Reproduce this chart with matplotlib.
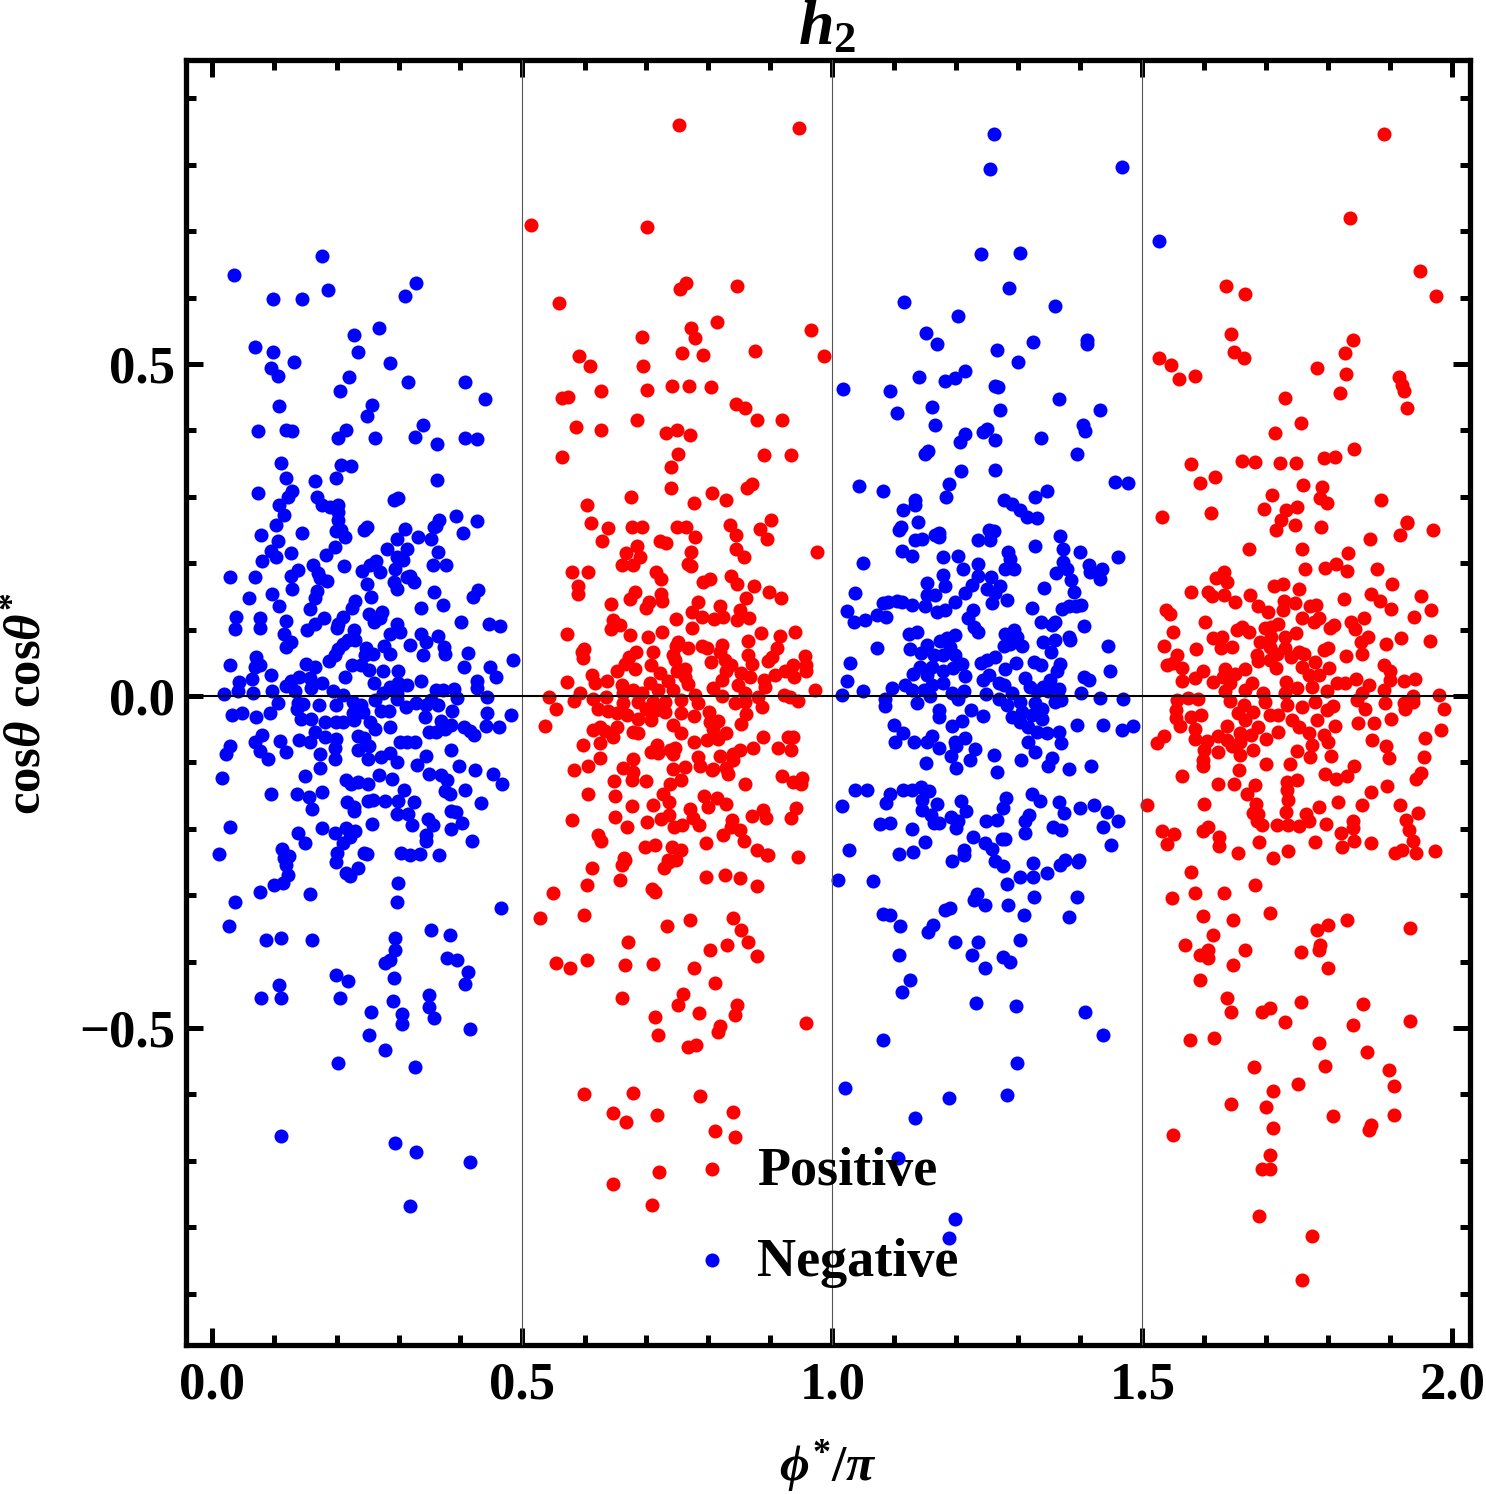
import matplotlib
matplotlib.use("Agg")
import matplotlib.pyplot as plt
import numpy as np
from matplotlib.ticker import MultipleLocator

plt.rcParams['font.family'] = ['Liberation Serif', 'DejaVu Serif']
plt.rcParams['font.weight'] = 'bold'
plt.rcParams['mathtext.fontset'] = 'custom'
plt.rcParams['mathtext.rm'] = 'Liberation Serif:bold'
plt.rcParams['mathtext.it'] = 'Liberation Serif:italic:bold'
plt.rcParams['mathtext.bf'] = 'Liberation Serif:bold'

title = r"$h_2$"
x_label = r"$\phi^{*}/\pi$"
y_label = r"$\mathrm{cos}\theta\ \mathrm{cos}\theta^{*}$"
legend_labels = ["Positive", "Negative"]
x_ticks = [0.0, 0.5, 1.0, 1.5, 2.0]
y_ticks = [-0.5, 0.0, 0.5]

# (phi*/pi, cos(theta) cos(theta*)) pairs
neg_lobe1 = [
(.034,.634),(.176,.663),(.186,.611),(.097,.598),(.145,.598),(.31,.602),(.329,.622),(.268,.554),(.229,.544),(.069,.526),
(.097,.518),(.132,.503),(.234,.518),(.287,.501),(.095,.494),(.105,.482),(.22,.48),(.316,.473),(.205,.459),(.408,.473),
(.439,.447),(.107,.437),(.258,.438),(.249,.422),(.074,.399),(.118,.401),(.129,.399),(.216,.401),(.203,.389),(.262,.389),
(.326,.39),(.339,.408),(.362,.38),(.407,.389),(.426,.387),(.11,.351),(.208,.348),(.224,.346),(.165,.324),(.199,.328),
(.118,.328),(.362,.325),(.129,.309),(.121,.3),(.108,.288),(.074,.306),(.169,.3),(.176,.288),(.189,.285),(.202,.288),
(.292,.295),(.3,.298),(.116,.273),(.102,.258),(.392,.271),(.426,.264),(.366,.265),(.36,.256),(.352,.236),(.203,.277),
(.202,.265),(.207,.25),(.249,.255),(.245,.25),(.31,.252),(.297,.236),
(.079,.242),(.105,.234),(.145,.246),(.095,.219),(.102,.21),(.126,.216),(.08,.204),(.029,.179),(.068,.179),(.059,.148),
(.096,.153),(.108,.135),(.126,.181),(.138,.19),(.162,.198),(.17,.185),(.173,.177),(.184,.173),(.129,.161),(.168,.158),
(.165,.147),(.157,.131),(.183,.212),(.198,.224),(.212,.196),(.2,.248),(.213,.239),(.281,.222),(.313,.222),(.332,.24),
(.358,.255),(.404,.245),(.364,.217),(.355,.198),(.376,.197),(.307,.205),(.297,.209),(.295,.192),(.264,.204),(.254,.197),
(.241,.189),(.27,.186),(.293,.172),(.297,.161),(.313,.179),(.319,.181),(.325,.171),(.249,.169),(.255,.149),(.23,.143),
(.225,.133),(.358,.157),(.429,.159),(.42,.149),(.337,.133),(.371,.137),(.401,.112),(.446,.108),(.463,.106),
(.038,.119),(.036,.101),(.077,.118),(.077,.103),(.119,.113),(.115,.093),(.127,.082),(.118,.074),(.18,.117),(.165,.108),
(.153,.099),(.21,.119),(.202,.109),(.201,.103),(.252,.124),(.274,.127),(.27,.118),(.26,.112),(.228,.1),(.23,.084),
(.219,.085),(.21,.078),(.203,.071),(.198,.062),(.298,.108),(.302,.097),(.286,.093),(.336,.094),(.345,.081),(.363,.091),
(.373,.074),(.375,.064),(.34,.061),(.318,.077),(.277,.075),(.287,.064),(.247,.072),(.259,.064),(.246,.062),(.412,.065),
(.485,.054),(.405,.043),(.447,.044),(.458,.029),(.426,.023),(.426,.012),(.443,-.001),(.39,.011),(.394,-.003),
(.029,.046),(.07,.059),(.077,.047),(.069,.043),(.064,.025),(.043,.021),(.041,.008),(.019,.003),(.065,.005),(.095,.032),
(.096,.008),(.118,.015),(.127,.022),(.14,.029),(.158,.027),(.151,.048),(.165,.044),(.188,.052),(.214,.028),(.176,.019),
(.159,.012),(.133,.007),(.194,.007),(.21,.002),(.225,.046),(.24,.046),(.253,.039),(.275,.037),(.26,.019),(.299,.037),
(.299,.019),(.286,.014),(.313,.017),(.336,.022),(.361,.009),(.372,.009),(.297,.004),(.275,.004),
(.105,-.01),(.138,-.011),(.146,-.012),(.172,-.013),(.2,-.014),(.226,-.009),(.24,-.014),(.262,-.006),(.297,-.004),(.312,-.016),
(.329,-.01),(.345,-.014),(.364,-.013),(.353,-.006),(.032,-.029),(.048,-.026),(.07,-.031),(.093,-.026),(.137,-.02),(.142,-.034),
(.159,-.035),(.182,-.039),(.2,-.039),(.21,-.039),(.226,-.026),(.229,-.036),(.243,-.024),(.254,-.039),(.262,-.049),(.272,-.022),
(.285,-.022),(.287,-.046),(.342,-.031),(.386,-.022),(.442,-.025),(.482,-.029),(.441,-.045),(.462,-.047),(.369,-.038),(.385,-.044),
(.375,-.049),(.361,-.054),(.35,-.054),(.405,-.046),(.415,-.052),(.422,-.059),(.165,-.054),(.08,-.058),(.069,-.07),(.076,-.083),
(.089,-.095),(.109,-.068),(.119,-.085),(.029,-.075),(.021,-.088),(.14,-.066),(.158,-.07),(.181,-.062),(.2,-.065),(.197,-.079),
(.174,-.088),(.198,-.095),(.234,-.06),(.245,-.064),(.253,-.076),(.235,-.081),(.251,-.095),(.271,-.092),(.286,-.086),(.297,-.099),
(.302,-.069),(.326,-.07),(.313,-.07),(.344,-.09),(.33,-.104),(.385,-.081),(.173,-.109),(.15,-.12),(.015,-.123),(.397,-.106),
(.424,-.112),(.452,-.118),(.467,-.132),(.35,-.118),(.368,-.119),(.378,-.127),(.268,-.119),(.29,-.125),(.216,-.127),(.223,-.132),
(.235,-.129),(.251,-.132),(.309,-.141),(.375,-.143),(.383,-.148),(.407,-.142),(.094,-.148),(.136,-.148),(.155,-.152),(.177,-.144),
(.161,-.17),(.217,-.16),(.229,-.167),(.229,-.173),(.251,-.158),(.259,-.157),(.278,-.158),(.299,-.158),(.325,-.16),(.433,-.161),
(.385,-.173),(.392,-.174),(.298,-.178),(.315,-.177),(.321,-.194),(.348,-.185),(.355,-.194),(.385,-.2),(.402,-.192),(.258,-.193),
(.176,-.199),(.029,-.197),(.138,-.207),(.149,-.221),(.198,-.207),(.216,-.199),(.23,-.203),(.221,-.212),(.21,-.222),(.201,-.237),
(.249,-.238),(.304,-.237),(.334,-.238),(.365,-.239),(.345,-.209),(.345,-.219),(.418,-.218),(.011,-.238),(.112,-.231),(.123,-.241),
(.037,-.31),(.026,-.346),(.077,-.295),(.1,-.285),(.113,-.282),(.121,-.27),(.118,-.255),(.115,-.244),(.158,-.298),(.087,-.367),
(.11,-.364),(.16,-.367),(.216,-.267),(.234,-.259),(.221,-.271),(.199,-.25),(.245,-.236),(.299,-.282),(.297,-.31),(.465,-.319),
(.199,-.42),(.218,-.429),(.205,-.455),(.295,-.364),(.294,-.383),(.286,-.398),(.278,-.402),(.292,-.425),(.352,-.352),(.383,-.36),
(.379,-.395),(.394,-.398),(.412,-.416),(.408,-.434),(.35,-.45),(.35,-.468),(.357,-.485),(.416,-.502),(.079,-.455),(.108,-.435),
(.11,-.455),(.291,-.459),(.255,-.476),(.305,-.479),(.305,-.494),(.253,-.511),(.278,-.533),(.326,-.559),(.202,-.553),(.11,-.663),
(.295,-.673),(.329,-.687),(.416,-.702),(.318,-.768),(.318,-.239),
]

pos_lobe2 = [
(.513,.709),(.701,.706),(.752,.86),(.946,.855),(.764,.622),(.754,.613),(.846,.617),(.559,.592),(.965,.551),(.772,.554),
(.778,.539),(.692,.541),(.814,.563),(.986,.512),(.875,.52),(.591,.512),(.609,.497),(.694,.497),(.757,.517),(.791,.514),
(.701,.461),(.741,.467),(.768,.467),(.804,.465),(.626,.459),(.563,.449),(.573,.45),(.844,.44),(.859,.434),(.878,.416),
(.918,.416),(.586,.405),(.626,.401),(.684,.416),(.731,.396),(.749,.401),(.77,.393),(.751,.364),(.563,.36),(.889,.363),
(.933,.363),(.739,.345),(.675,.3),(.739,.313),(.805,.306),(.828,.295),(.862,.313),(.87,.319),(.604,.288),(.776,.291),
(.611,.261),(.638,.253),(.676,.255),(.692,.255),(.75,.255),(.764,.255),(.778,.24),(.835,.257),(.845,.242),(.883,.251),
(.895,.236),(.901,.265),(.975,.217),(.628,.233),(.722,.234),(.732,.23),(.685,.226),(.667,.215),(.689,.21),(.66,.197),
(.678,.197),(.772,.217),(.844,.222),(.857,.21),(.767,.199),(.771,.196),(.58,.186),(.606,.187),(.589,.166),(.59,.153),
(.715,.187),(.723,.176),(.791,.172),(.803,.176),(.837,.18),(.846,.169),(.873,.166),(.898,.156),(.917,.147),(.86,.147),
(.681,.156),(.673,.146),(.723,.154),(.725,.143),(.704,.142),(.7,.132),(.642,.139),(.783,.142),(.773,.126),(.789,.119),
(.809,.116),(.824,.119),(.819,.135),(.851,.13),(.846,.114),(.865,.118),(.646,.114),(.657,.107),(.642,.101),(.747,.116),
(.773,.103),(.673,.092),(.702,.089),(.725,.096),(.571,.093),(.884,.095),(.916,.091),(.94,.096),(.864,.083),(.599,.071),
(.596,.066),(.598,.057),(.751,.082),(.748,.075),(.767,.072),(.789,.075),(.798,.072),(.821,.077),(.818,.067),(.864,.062),
(.87,.048),(.91,.072),(.902,.059),(.896,.052),(.956,.06),(.958,.047),(.958,.038),(.683,.066),(.671,.059),(.665,.048),
(.711,.067),(.743,.062),(.746,.054),(.707,.046),(.681,.041),(.652,.037),(.804,.051),(.826,.054),(.837,.047),(.829,.037),
(.721,.035),(.749,.038),(.762,.041),(.762,.029),(.853,.035),(.867,.029),(.937,.046),(.923,.037),(.907,.032),(.938,.029),
(.89,.024),(.891,.014),(.612,.032),(.617,.019),(.637,.023),(.571,.021),(.592,.005),(.542,-.001),(.661,.017),(.678,.009),
(.705,.019),(.735,.022),(.767,.018),(.821,.024),(.808,.012),(.848,.017),(.859,.004),(.88,-.002),(.972,.009),(.922,.001),
(.931,-.001),(.945,-.007),(.821,0),(.778,.002),(.743,.009),(.719,.009),(.692,.004),(.662,.004),(.635,-.001),(.614,-.004),
(.583,-.008),(.554,-.019),(.537,-.045),(.783,-.01),(.756,-.006),(.73,-.009),(.711,-.009),(.687,-.009),(.662,-.011),(.842,-.01),
(.859,-.009),(.887,-.016),(.622,-.02),(.638,-.022),(.652,-.025),(.668,-.029),(.687,-.034),(.708,-.036),(.73,-.024),(.716,-.021),
(.7,-.019),(.755,-.026),(.776,-.03),(.801,-.024),(.815,-.037),(.802,-.039),(.808,-.049),(.86,-.027),(.852,-.042),(.743,-.044),
(.756,-.056),(.614,-.051),(.625,-.047),(.633,-.052),(.646,-.062),(.652,-.047),(.678,-.054),(.687,-.056),(.776,-.07),(.797,-.067),
(.816,-.065),(.829,-.056),(.888,-.061),(.929,-.061),(.936,-.061),(.912,-.079),(.933,-.081),(.871,-.078),(.598,-.074),(.625,-.071),
(.625,-.093),(.707,-.085),(.717,-.074),(.719,-.086),(.738,-.081),(.746,-.079),(.743,-.088),(.783,-.092),(.818,-.091),(.786,-.105),
(.805,-.111),(.808,-.11),(.84,-.088),(.851,-.082),(.84,-.096),(.829,-.109),(.832,-.117),(.583,-.111),(.606,-.106),(.662,-.108),
(.678,-.095),(.678,-.115),(.677,-.126),(.647,-.128),(.7,-.128),(.743,-.11),(.762,-.107),(.755,-.127),(.738,-.133),(.859,-.132),
(.918,-.12),(.937,-.129),(.951,-.124),(.95,-.132),(.606,-.148),(.649,-.15),(.727,-.147),(.736,-.16),(.676,-.166),(.711,-.164),
(.792,-.151),(.8,-.167),(.813,-.154),(.829,-.162),(.941,-.169),(.933,-.184),(.58,-.187),(.649,-.182),(.701,-.19),(.723,-.185),
(.737,-.179),(.77,-.17),(.775,-.184),(.785,-.195),(.744,-.198),(.757,-.194),(.669,-.198),(.838,-.187),(.837,-.197),(.824,-.209),
(.851,-.202),(.858,-.219),(.87,-.18),(.888,-.172),(.893,-.183),(.622,-.209),(.626,-.218),(.698,-.228),(.714,-.225),(.741,-.228),
(.755,-.232),(.796,-.221),(.878,-.232),(.895,-.24),(.945,-.242),(.663,-.244),(.735,-.247),
(.665,-.247),(.66,-.255),(.657,-.277),(.612,-.259),(.604,-.285),(.747,-.247),(.736,-.25),(.728,-.259),(.796,-.273),(.826,-.27),
(.851,-.274),(.878,-.286),(.896,-.239),(.549,-.297),(.529,-.334),(.599,-.33),(.713,-.295),(.709,-.291),(.733,-.346),(.77,-.337),
(.839,-.334),(.852,-.352),(.864,-.37),(.67,-.37),(.604,-.398),(.554,-.402),(.576,-.41),(.665,-.405),(.71,-.404),(.776,-.41),
(.802,-.383),(.83,-.375),(.878,-.392),(.81,-.432),(.759,-.449),(.751,-.465),(.66,-.455),(.846,-.465),(.785,-.477),(.843,-.48),
(.713,-.483),(.818,-.497),(.815,-.506),(.718,-.511),(.957,-.492),(.767,-.529),(.78,-.526),(.6,-.599),(.678,-.598),(.786,-.602),
(.646,-.628),(.667,-.642),(.717,-.631),(.839,-.627),(.81,-.655),(.843,-.664),(.72,-.717),(.646,-.735),(.709,-.767),
]

neg_lobe3 = [
(1.467,.797),(1.261,.846),(1.254,.794),(1.24,.666),(1.303,.667),(1.527,.685),(1.285,.614),(1.359,.587),(1.115,.593),(1.203,.572),
(1.151,.547),(1.169,.53),(1.324,.533),(1.411,.536),(1.411,.53),(1.266,.521),(1.214,.489),(1.299,.503),(1.198,.479),(1.14,.48),
(1.182,.474),(1.017,.462),(1.093,.459),(1.262,.467),(1.267,.465),(1.366,.447),(1.104,.426),(1.161,.435),(1.27,.431),(1.432,.431),
(1.165,.408),(1.249,.402),(1.214,.395),(1.206,.383),(1.337,.389),(1.404,.408),(1.407,.399),(1.395,.364),(1.149,.364),(1.154,.369),
(1.262,.386),(1.243,.398),(1.207,.339),(1.262,.34),(1.188,.319),(1.043,.316),(1.082,.309),(1.183,.3),(1.133,.295),(1.277,.295),
(1.346,.309),(1.327,.3),(1.456,.322),(1.477,.321),(1.29,.289),(1.303,.28),(1.314,.27),(1.33,.268),(1.114,.28),(1.133,.288),
(1.107,.25),(1.138,.262),
(1.11,.254),(1.133,.235),(1.145,.237),(1.165,.242),(1.172,.245),(1.171,.24),(1.112,.219),(1.128,.211),(1.178,.21),(1.203,.211),
(1.211,.192),(1.05,.2),(1.235,.235),(1.252,.25),(1.26,.249),(1.254,.235),(1.326,.226),(1.367,.241),(1.372,.221),(1.399,.217),
(1.46,.21),(1.283,.217),(1.287,.207),(1.235,.199),(1.278,.191),(1.292,.192),(1.371,.202),(1.378,.192),(1.36,.185),(1.385,.175),
(1.413,.198),(1.416,.187),(1.435,.192),(1.432,.176),(1.178,.182),(1.182,.166),(1.152,.17),(1.036,.155),(1.341,.162),(1.389,.156),
(1.235,.18),(1.255,.179),(1.225,.167),(1.214,.155),(1.249,.161),(1.262,.155),(1.27,.165),(1.257,.14),(1.281,.145),(1.198,.142),
(1.165,.152),(1.152,.152),(1.149,.136),(1.182,.13),(1.168,.126),(1.082,.14),(1.09,.141),(1.104,.143),(1.112,.142),(1.128,.137),
(1.024,.128),(1.034,.112),(1.052,.114),(1.071,.122),(1.087,.119),(1.322,.133),(1.37,.131),(1.381,.136),(1.392,.135),(1.401,.137),
(1.226,.129),(1.219,.117),(1.229,.104),(1.235,.097),(1.336,.112),(1.354,.107),(1.359,.112),(1.406,.105),(1.123,.094),(1.136,.096),
(1.278,.094),(1.292,.1),(1.297,.089),(1.276,.075),(1.287,.079),(1.306,.076),(1.381,.089),(1.383,.085),(1.34,.082),(1.359,.084),
(1.352,.067),(1.445,.076),(1.071,.072),(1.125,.071),(1.143,.065),(1.152,.077),(1.174,.083),(1.184,.088),(1.198,.092),(1.19,.074),
(1.164,.062),(1.179,.062),(1.198,.062),(1.029,.05),(1.024,.022),(1.016,.002),(1.049,.008),(1.096,.012),(1.117,.017),(1.13,.033),
(1.141,.044),(1.16,.044),(1.209,.048),(1.195,.042),(1.179,.037),(1.152,.032),(1.179,.019),(1.214,.03),(1.16,.017),(1.147,.009),
(1.128,.009),(1.239,.049),(1.249,.054),(1.262,.059),(1.278,.041),(1.296,.049),(1.325,.051),(1.336,.047),(1.367,.048),(1.362,.037),
(1.351,.024),(1.243,.024),(1.252,.032),(1.268,.019),(1.276,.017),(1.31,.027),(1.319,.014),(1.34,.014),(1.366,.01),(1.405,.028),
(1.414,.024),(1.448,.037),(1.401,.004),(1.431,-.003),(1.468,-.005),(1.192,.005),(1.212,.008),(1.247,.003),(1.289,.004),(1.33,.007),
(1.348,.007),(1.085,-.004),(1.084,-.015),(1.137,-.011),(1.157,0),(1.203,-.004),(1.268,-.004),(1.282,-.014),(1.303,-.009),(1.327,-.011),
(1.359,-.009),(1.369,-.006),(1.172,-.021),(1.172,-.031),(1.223,-.021),(1.243,-.03),(1.209,-.038),(1.192,-.045),(1.289,-.032),(1.305,-.024),
(1.322,-.029),(1.338,-.019),(1.338,-.034),(1.303,-.039),(1.316,-.046),(1.33,-.054),(1.346,-.056),(1.365,-.054),(1.369,-.071),(1.394,-.044),
(1.437,-.044),(1.467,-.051),(1.484,-.045),(1.099,-.044),(1.114,-.056),(1.101,-.07),(1.132,-.07),(1.152,-.07),(1.16,-.06),(1.172,-.078),
(1.198,-.069),(1.213,-.064),(1.199,-.076),(1.23,-.08),(1.222,-.097),(1.191,-.091),(1.151,-.101),(1.199,-.109),(1.261,-.089),(1.266,-.114),
(1.304,-.096),(1.315,-.069),(1.327,-.084),(1.354,-.094),(1.347,-.106),(1.381,-.11),(1.417,-.106),(1.036,-.142),(1.055,-.141),(1.015,-.165),
(1.093,-.147),(1.086,-.161),(1.114,-.142),(1.128,-.141),(1.143,-.137),(1.155,-.143),(1.145,-.157),(1.168,-.162),(1.144,-.172),(1.159,-.179),
(1.163,-.192),(1.172,-.192),(1.077,-.193),(1.092,-.191),(1.129,-.201),(1.207,-.158),(1.216,-.173),(1.191,-.182),(1.203,-.188),(1.199,-.199),
(1.28,-.153),(1.275,-.169),(1.266,-.187),(1.248,-.188),(1.322,-.148),(1.334,-.158),(1.365,-.159),(1.373,-.176),(1.4,-.168),(1.422,-.164),
(1.443,-.175),(1.46,-.189),(1.437,-.197),(1.317,-.179),(1.311,-.189),(1.311,-.207),(1.355,-.198),(1.369,-.202),(1.227,-.212),(1.246,-.222),
(1.258,-.231),(1.273,-.215),(1.279,-.215),(1.149,-.22),(1.027,-.232),(1.13,-.235),(1.108,-.238),(1.212,-.232),(1.212,-.239),(1.449,-.224),
(1.375,-.247),(1.397,-.247),(1.192,-.249),(1.262,-.249),(1.323,-.252),
(1.009,-.277),(1.065,-.279),(1.082,-.328),(1.093,-.33),(1.109,-.346),(1.107,-.39),(1.125,-.428),(1.112,-.446),(1.182,-.322),(1.19,-.319),
(1.162,-.345),(1.154,-.355),(1.198,-.37),(1.235,-.37),(1.246,-.315),(1.228,-.307),(1.233,-.298),(1.282,-.283),(1.283,-.315),(1.309,-.33),
(1.325,-.303),(1.346,-.267),(1.324,-.273),(1.303,-.273),(1.367,-.255),(1.396,-.25),(1.395,-.303),(1.382,-.333),(1.275,-.256),(1.303,-.367),
(1.225,-.39),(1.275,-.393),(1.287,-.401),(1.246,-.41),(1.232,-.462),(1.296,-.467),(1.408,-.476),(1.437,-.511),(1.082,-.518),(1.298,-.553),
(1.02,-.59),(1.188,-.605),(1.282,-.601),(1.133,-.636),(1.106,-.696),(1.198,-.788),(1.188,-.816),
]

pos_lobe4 = [
(1.889,.846),(1.834,.72),(1.947,.64),(1.635,.617),(1.666,.605),(1.973,.602),(1.642,.545),(1.839,.536),(1.827,.517),(1.527,.509),
(1.546,.498),(1.585,.482),(1.559,.477),(1.648,.518),(1.663,.509),(1.781,.494),(1.829,.485),(1.73,.449),(1.818,.456),(1.914,.48),
(1.918,.468),(1.921,.459),(1.926,.434),(1.756,.411),(1.714,.396),(1.841,.372),(1.579,.349),(1.593,.321),(1.617,.33),(1.661,.354),
(1.682,.352),(1.722,.351),(1.747,.351),(1.793,.358),(1.81,.36),(1.759,.318),(1.79,.315),(1.709,.303),(1.787,.298),(1.884,.295),
(1.611,.276),(1.532,.27),(1.696,.282),(1.731,.28),(1.749,.285),(1.797,.291),(1.926,.262),(1.723,.265),
(1.716,.25),(1.746,.258),(1.788,.254),(1.867,.237),(1.916,.242),(1.927,.261),(1.968,.25),(1.671,.222),(1.758,.221),(1.831,.215),
(1.762,.191),(1.794,.193),(1.812,.199),(1.83,.188),(1.879,.191),(1.632,.187),(1.619,.177),(1.637,.171),(1.579,.156),(1.606,.157),
(1.612,.15),(1.632,.152),(1.649,.142),(1.674,.152),(1.712,.166),(1.727,.168),(1.752,.161),(1.903,.168),(1.869,.154),(1.883,.143),
(1.901,.131),(1.825,.146),(1.949,.15),(1.966,.13),(1.938,.119),(1.686,.135),(1.703,.127),(1.726,.129),(1.729,.143),(1.746,.14),
(1.77,.135),(1.78,.137),(1.757,.117),(1.777,.112),(1.784,.117),(1.538,.129),(1.544,.123),(1.601,.112),(1.858,.118),(1.836,.112),
(1.809,.107),(1.803,.103),(1.843,.101),(1.66,.104),(1.652,.1),(1.671,.097),(1.698,.103),(1.719,.108),(1.708,.104),(1.549,.097),
(1.748,.095),(1.73,.089),(1.708,.089),(1.614,.087),(1.629,.089),(1.627,.072),(1.644,.074),(1.689,.081),(1.706,.074),(1.534,.076),
(1.586,.071),(1.863,.089),(1.852,.081),(1.893,.078),(1.917,.088),(1.963,.083),(1.854,.063),(1.792,.069),(1.8,.073),(1.73,.073),
(1.717,.064),(1.739,.059),(1.752,.067),(1.76,.064),(1.829,.06),(1.684,.062),(1.687,.052),(1.706,.054),(1.555,.062),(1.539,.047),
(1.55,.049),(1.563,.042),(1.597,.038),(1.585,.027),(1.564,.023),(1.633,.041),(1.665,.041),(1.715,.042),(1.757,.043),(1.778,.051),
(1.768,.032),(1.801,.042),(1.784,.032),(1.889,.047),(1.899,.037),(1.9,.024),(1.614,.021),(1.63,.029),(1.649,.033),(1.641,.019),
(1.676,.019),(1.732,.021),(1.827,.019),(1.844,.026),(1.865,.016),(1.921,.023),(1.94,.025),(1.813,.019),(1.773,.014),(1.749,.012),
(1.889,.009),(1.797,.007),(1.665,.009),(1.633,.007),(1.695,.004),(1.73,.004),(1.854,.004),(1.979,.001),(1.937,0),(1.555,-.006),
(1.573,-.003),(1.59,-.004),(1.641,-.007),(1.846,-.006),(1.891,-.01),(1.921,-.011),(1.937,-.009),(1.924,-.02),(1.987,-.019),(1.808,-.015),
(1.778,-.009),(1.757,-.016),(1.733,-.014),(1.698,-.009),(1.663,-.014),(1.554,-.021),(1.554,-.033),(1.56,-.045),(1.579,-.031),(1.594,-.029),
(1.584,-.049),(1.654,-.026),(1.679,-.024),(1.665,-.036),(1.706,-.029),(1.718,-.029),(1.741,-.036),(1.781,-.036),(1.797,-.021),(1.859,-.019),
(1.848,-.041),(1.873,-.04),(1.901,-.035),(1.811,-.045),(1.636,-.045),(1.686,-.047),(1.752,-.047),(1.768,-.055),(1.718,-.054),(1.982,-.051),
(1.534,-.06),(1.524,-.071),(1.585,-.065),(1.604,-.068),(1.6,-.081),(1.622,-.06),(1.636,-.066),(1.644,-.076),(1.657,-.056),(1.657,-.069),
(1.675,-.059),(1.7,-.065),(1.793,-.059),(1.8,-.07),(1.773,-.074),(1.87,-.066),(1.893,-.076),(1.956,-.063),(1.622,-.085),(1.679,-.081),
(1.657,-.089),(1.749,-.083),(1.77,-.092),(1.804,-.09),(1.897,-.093),(1.954,-.092),(1.597,-.097),(1.597,-.105),(1.699,-.103),(1.738,-.103),
(1.656,-.111),(1.841,-.105),(1.563,-.121),(1.794,-.118),(1.812,-.125),(1.83,-.121),(1.95,-.116),(1.941,-.125),(1.749,-.126),(1.733,-.129),
(1.622,-.132),(1.648,-.132),(1.681,-.134),(1.894,-.136),(1.868,-.144),(1.668,-.147),(1.733,-.142),(1.734,-.157),(1.683,-.162),(1.6,-.163),
(1.816,-.16),(1.854,-.164),(1.916,-.164),(1.508,-.164),(1.944,-.176),(1.679,-.176),(1.687,-.178),(1.732,-.174),(1.784,-.167),(1.764,-.178),
(1.768,-.189),(1.796,-.193),(1.925,-.186),(1.93,-.202),(1.937,-.218),(1.684,-.189),(1.693,-.195),(1.717,-.195),(1.735,-.195),(1.752,-.196),
(1.839,-.189),(1.839,-.199),(1.82,-.207),(1.841,-.218),(1.868,-.221),(1.778,-.22),(1.822,-.228),(1.531,-.203),(1.551,-.208),(1.539,-.223),
(1.606,-.197),(1.598,-.203),(1.623,-.213),(1.623,-.226),(1.688,-.22),(1.734,-.233),(1.654,-.236),(1.711,-.244),(1.908,-.237),(1.918,-.232),
(1.941,-.237),(1.971,-.234),
(1.579,-.265),(1.548,-.304),(1.598,-.331),(1.632,-.297),(1.585,-.297),(1.646,-.337),(1.614,-.36),(1.682,-.285),(1.706,-.327),(1.569,-.375),
(1.605,-.383),(1.592,-.39),(1.606,-.395),(1.666,-.383),(1.646,-.405),(1.782,-.352),(1.8,-.345),(1.83,-.337),(1.787,-.375),(1.755,-.386),
(1.784,-.383),(1.8,-.41),(1.932,-.349),(1.592,-.428),(1.637,-.455),(1.643,-.476),(1.577,-.518),(1.616,-.515),(1.706,-.47),(1.693,-.476),
(1.755,-.461),(1.73,-.491),(1.856,-.464),(1.839,-.495),(1.932,-.489),(1.785,-.523),(1.68,-.559),(1.795,-.557),(1.862,-.536),(1.897,-.563),
(1.905,-.587),(1.751,-.584),(1.71,-.595),(1.643,-.614),(1.7,-.619),(1.808,-.633),(1.906,-.631),(1.868,-.646),(1.866,-.654),(1.55,-.661),
(1.71,-.651),(1.705,-.691),(1.693,-.712),(1.706,-.712),(1.688,-.783),(1.774,-.813),(1.758,-.88),
]

W, H = 1486, 1494
fig = plt.figure(figsize=(W / 100, H / 100), dpi=100)
ax = fig.add_axes([186 / W, 1 - 1344.5 / H, 1284 / W, 1284.5 / H])

RED, BLUE = "#ff0000", "#0000ff"
for pts, col in ((neg_lobe1, BLUE), (pos_lobe2, RED), (neg_lobe3, BLUE), (pos_lobe4, RED)):
    arr = np.array(pts)
    ax.plot(arr[:, 0], arr[:, 1], 'o', color=col, ms=10.1, mew=0, zorder=2, clip_on=True)

for xv in (0.5, 1.0, 1.5):
    ax.axvline(xv, color="#555555", lw=0.8, zorder=3)
ax.axhline(0, color="black", lw=1.5, zorder=3)

ax.set_xlim((186 - 212.5) / 620, (1470 - 212.5) / 620)
ax.set_ylim((696 - 1344.5) / 664, (696 - 60) / 664)
ax.set_xticks(x_ticks)
ax.set_xticklabels([f"{v:.1f}" for v in x_ticks])
ax.set_yticks(y_ticks)
ax.set_yticklabels([f"{v:.1f}".replace("-", "\u2212") for v in y_ticks])
ax.xaxis.set_minor_locator(MultipleLocator(0.1))
ax.yaxis.set_minor_locator(MultipleLocator(0.1))
ax.tick_params(which='major', direction='in', length=12, width=3.6, top=True, right=True,
               labelsize=38, pad=12)
ax.tick_params(which='minor', direction='in', length=7.5, width=3.6, top=True, right=True)
ax.tick_params(axis='y', which='major', pad=8)
for s in ax.spines.values():
    s.set_linewidth(3.8)

# legend
ax.plot([0.4093], [0.137], 'o', color=RED, ms=10.1, mew=0, transform=ax.transAxes, zorder=4)
ax.plot([0.4093], [0.0661], 'o', color=BLUE, ms=10.1, mew=0, transform=ax.transAxes, zorder=4)
ax.text(0.4444, 0.1245, legend_labels[0], transform=ax.transAxes, fontsize=39, va='baseline', zorder=5)
ax.text(0.4444, 0.053, legend_labels[1], transform=ax.transAxes, fontsize=39, va='baseline', zorder=5)

fig.text(827 / W, 1 - 44 / H, title, fontsize=46, ha='center', va='baseline')
fig.text(828 / W, 1 - 1480 / H, x_label, fontsize=37, ha='center', va='baseline')
fig.text(40 / W, 1 - 703 / H, y_label, fontsize=36.5, ha='center', va='baseline', rotation=90, rotation_mode='anchor')

fig.savefig("out.png", dpi=100)
